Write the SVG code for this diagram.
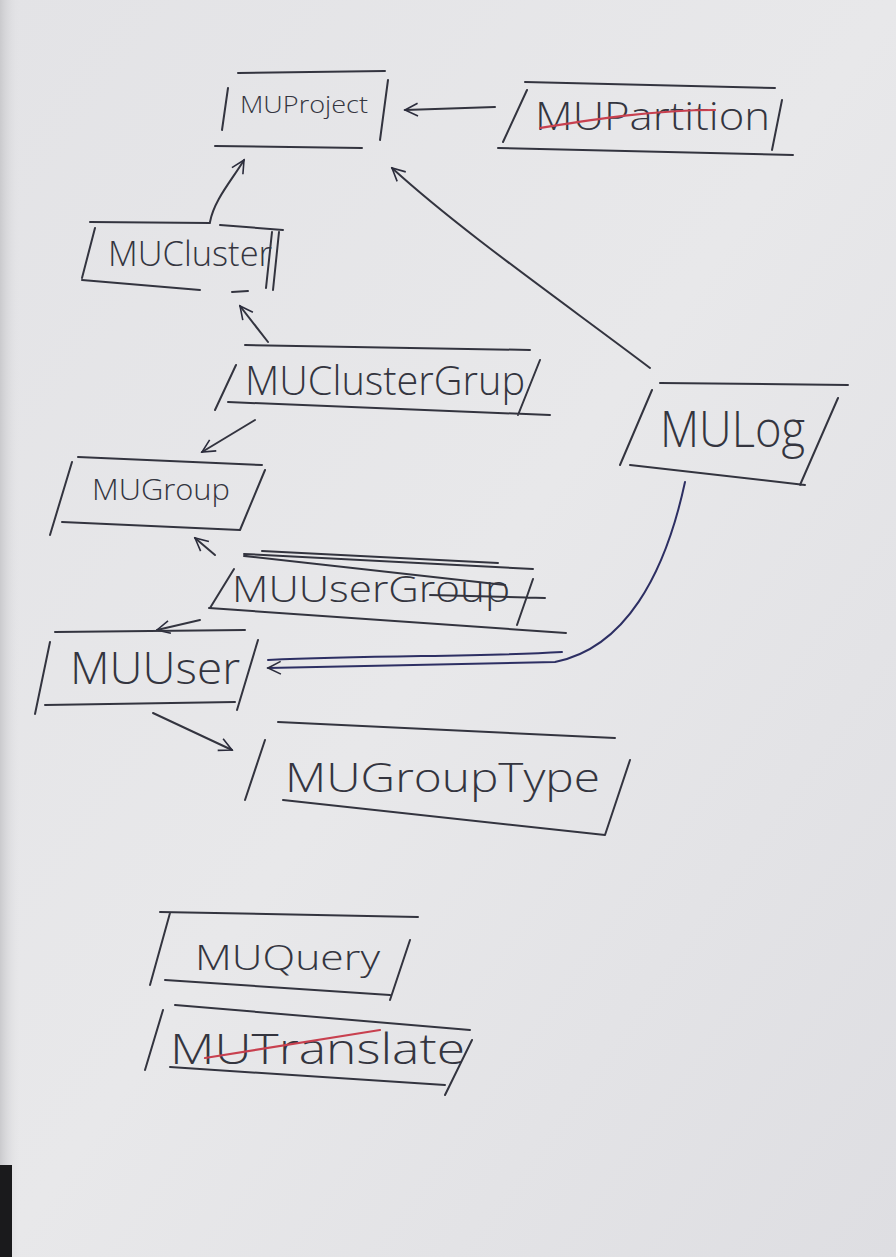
<svg xmlns="http://www.w3.org/2000/svg" width="896" height="1257" viewBox="0 0 896 1257">
<defs>
<linearGradient id="paper" x1="0" y1="0" x2="1" y2="1">
<stop offset="0" stop-color="#e3e3e6"/>
<stop offset="0.5" stop-color="#e8e8ea"/>
<stop offset="1" stop-color="#dedee2"/>
</linearGradient>
<linearGradient id="edge" x1="0" y1="0" x2="1" y2="0">
<stop offset="0" stop-color="#cacacd"/>
<stop offset="1" stop-color="#e3e3e6" stop-opacity="0"/>
</linearGradient>
<marker id="open" viewBox="0 0 20 20" refX="18" refY="10" markerWidth="16" markerHeight="16" markerUnits="userSpaceOnUse" orient="auto">
<path d="M2,2 L18,10 L2,18" fill="none" stroke="#2b2c3c" stroke-width="2"/>
</marker>
</defs>
<style>
.ink{fill:none;stroke:#33343f;stroke-width:2;stroke-linecap:round;stroke-linejoin:round}
.blue{fill:none;stroke:#2d2f63;stroke-width:2;stroke-linecap:round}
.red{fill:none;stroke:#c8404f;stroke-width:2.2;stroke-linecap:round}
.lbl{font-family:"Open Sans","DejaVu Sans",sans-serif;fill:#34353f;font-weight:300}
</style>
<rect width="896" height="1257" fill="url(#paper)"/>
<rect width="20" height="1257" fill="url(#edge)"/>
<rect x="0" y="1165" width="12" height="92" fill="#1a1a1c"/>

<g id="connectors">
<path class="ink" d="M495,107 L405,110" marker-end="url(#open)"/>
<path class="ink" d="M210,222 C214,200 232,180 244,160" marker-end="url(#open)"/>
<path class="ink" d="M650,368 C560,300 460,230 392,168" marker-end="url(#open)"/>
<path class="ink" d="M268,342 L240,306" marker-end="url(#open)"/>
<path class="ink" d="M255,420 L202,452" marker-end="url(#open)"/>
<path class="ink" d="M215,555 L195,538" marker-end="url(#open)"/>
<path class="ink" d="M200,620 L157,630" marker-end="url(#open)"/>
<path class="blue" d="M685,482 C665,575 625,648 555,662 L268,668" marker-end="url(#open)"/>
<path class="blue" d="M268,660 C380,655 480,657 562,652"/>
<path class="ink" d="M153,713 L232,750" marker-end="url(#open)"/>
</g>

<g id="MUProject">
<path class="ink" d="M238,73 L385,71 M228,88 L222,130 M388,80 L380,140 M215,146 L362,148"/>
<text class="lbl" x="240" y="113" font-size="24" textLength="128" lengthAdjust="spacingAndGlyphs">MUProject</text>
</g>

<g id="MUPartition">
<path class="ink" d="M525,82 L775,88 M527,90 L503,142 M782,100 L772,150 M498,148 L793,155"/>
<text class="lbl" x="535" y="130" font-size="38" textLength="235" lengthAdjust="spacingAndGlyphs">MUPartition</text>
<path class="red" d="M540,128 C590,120 650,110 715,110"/>
</g>

<g id="MUCluster">
<path class="ink" d="M90,222 L210,223 M220,225 L283,230 M95,228 L82,278 M82,280 L200,290 M272,232 L266,288 M279,232 L273,290 M232,292 L248,291"/>
<text class="lbl" x="108" y="266" font-size="34" textLength="164" lengthAdjust="spacingAndGlyphs">MUCluster</text>
</g>

<g id="MUClusterGrup">
<path class="ink" d="M245,345 L530,350 M236,365 L215,410 M228,402 L550,415 M540,360 L518,415"/>
<text class="lbl" x="245" y="395" font-size="40" textLength="280" lengthAdjust="spacingAndGlyphs">MUClusterGrup</text>
</g>

<g id="MULog">
<path class="ink" d="M660,383 L848,385 M652,390 L620,465 M630,465 L805,485 M838,398 L800,485"/>
<text class="lbl" x="660" y="447" font-size="50" textLength="145" lengthAdjust="spacingAndGlyphs">MULog</text>
</g>

<g id="MUGroup">
<path class="ink" d="M78,457 L262,465 M72,462 L50,535 M62,522 L240,530 M265,470 L240,530"/>
<text class="lbl" x="92" y="500" font-size="30" textLength="138" lengthAdjust="spacingAndGlyphs">MUGroup</text>
</g>

<g id="MUUserGroup">
<path class="ink" d="M244,554 L533,569 M262,551 L498,563 M244,556 L505,585 M234,569 L210,608 M209,608 L566,633 M533,579 L517,625 M430,595 L545,598"/>
<text class="lbl" x="232" y="602" font-size="36" textLength="278" lengthAdjust="spacingAndGlyphs">MUUserGroup</text>
</g>

<g id="MUUser">
<path class="ink" d="M55,632 L245,630 M50,642 L35,714 M45,705 L235,702 M258,640 L237,710"/>
<text class="lbl" x="70" y="684" font-size="44" textLength="170" lengthAdjust="spacingAndGlyphs">MUUser</text>
</g>

<g id="MUGroupType">
<path class="ink" d="M278,722 L615,738 M265,740 L245,800 M283,800 L605,835 M630,760 L605,835"/>
<text class="lbl" x="285" y="792" font-size="40" textLength="315" lengthAdjust="spacingAndGlyphs">MUGroupType</text>
</g>

<g id="MUQuery">
<path class="ink" d="M160,912 L418,917 M170,913 L150,985 M165,980 L390,995 M410,940 L390,1000"/>
<text class="lbl" x="195" y="970" font-size="34" textLength="185" lengthAdjust="spacingAndGlyphs">MUQuery</text>
</g>

<g id="MUTranslate">
<path class="ink" d="M175,1005 L470,1030 M163,1010 L145,1070 M170,1067 L445,1085 M472,1040 L445,1095"/>
<text class="lbl" x="170" y="1064" font-size="42" textLength="295" lengthAdjust="spacingAndGlyphs">MUTranslate</text>
<path class="red" d="M205,1058 L380,1030"/>
</g>
</svg>
